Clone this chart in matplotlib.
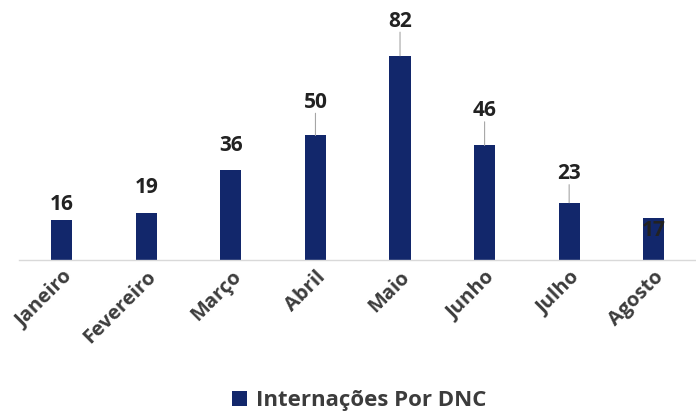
import matplotlib
matplotlib.use('Agg')
import matplotlib.pyplot as plt

meses = ['Janeiro', 'Fevereiro', 'Março', 'Abril', 'Maio', 'Junho',
         'Julho', 'Agosto']
internacoes = [16, 19, 36, 50, 82, 46, 23, 17]
serie_nome = 'Internações Por DNC'

# label offset above bar top, in points (negative = inside bar)
label_offsets = [11, 18, 18, 24, 25, 25, 21, -9]

BAR_COLOR = '#12276b'
TEXT_DARK = '#222222'
TEXT_GRAY = '#3c3c3c'

plt.rcParams['font.family'] = ['Open Sans', 'DejaVu Sans']

fig = plt.figure(figsize=(6.96, 4.16), dpi=100)
ax = fig.add_axes([0.028, 0.375, 0.972, 0.625])

x = range(len(meses))
bars = ax.bar(x, internacoes, width=0.25, color=BAR_COLOR,
              label=serie_nome, zorder=2)

ax.set_xlim(-0.5, len(meses) - 0.5)
ax.set_ylim(0, 104.4)

for xi, v, off in zip(x, internacoes, label_offsets):
    # thin leader line where the label sits well above the bar
    if off > 20:
        ax.annotate('', xy=(xi, v), xytext=(0, off - 8),
                    textcoords='offset points',
                    arrowprops=dict(arrowstyle='-', color='#a6a6a6', lw=0.8,
                                    shrinkA=0, shrinkB=0))
    ax.annotate(str(v), xy=(xi, v), xytext=(0, off),
                textcoords='offset points', ha='center', va='center',
                fontsize=15, fontweight='bold', color=TEXT_DARK, zorder=3)

for side in ['top', 'right', 'left']:
    ax.spines[side].set_visible(False)
ax.spines['bottom'].set_color('#d9d9d9')
ax.spines['bottom'].set_linewidth(1.0)
ax.set_yticks([])
ax.set_xticks(list(x))
ax.set_xticklabels(meses, rotation=45, ha='right', rotation_mode='anchor',
                   fontsize=14.5, fontweight='bold', color=TEXT_GRAY)
ax.tick_params(axis='x', length=0, pad=5)

fig.legend(handles=[bars], labels=[serie_nome], loc='center',
           bbox_to_anchor=(0.516, 0.037), frameon=False, handlelength=0.7,
           handleheight=0.7, handletextpad=0.4,
           prop={'size': 16, 'weight': 'bold'}, labelcolor=TEXT_GRAY)

fig.savefig('out.png', dpi=100)
